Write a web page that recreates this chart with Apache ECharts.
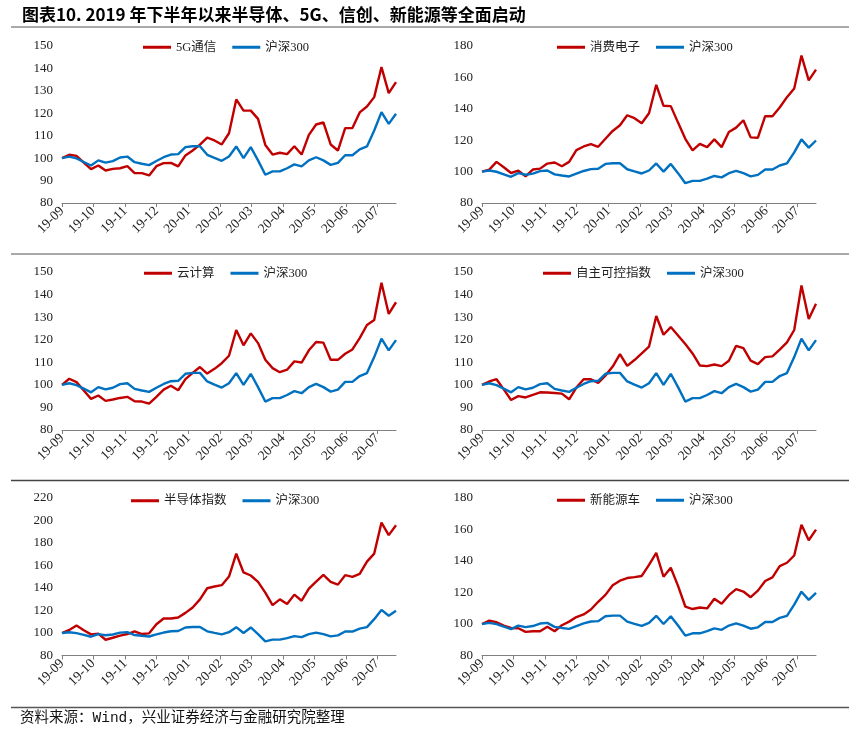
<!DOCTYPE html>
<html><head><meta charset="utf-8">
<script src="https://cdn.jsdelivr.net/npm/echarts@6/dist/echarts.min.js"></script>
<style>html,body{margin:0;padding:0;background:#fff}#c{width:860px;height:730px}</style>
</head><body><div id="c"></div>
<script>
const titleText = '图表10. 2019 年下半年以来半导体、5G、信创、新能源等全面启动';
const sourceText = '资料来源：Wind，兴业证券经济与金融研究院整理';

const dates = ['2019-09-01','2019-09-08','2019-09-15','2019-09-22','2019-09-29','2019-10-06','2019-10-13','2019-10-20','2019-10-27','2019-11-03',
'2019-11-10','2019-11-17','2019-11-24','2019-12-01','2019-12-08','2019-12-15','2019-12-22','2019-12-29','2020-01-05','2020-01-12',
'2020-01-19','2020-01-26','2020-02-02','2020-02-09','2020-02-16','2020-02-23','2020-03-01','2020-03-08','2020-03-15','2020-03-22',
'2020-03-29','2020-04-05','2020-04-12','2020-04-19','2020-04-26','2020-05-03','2020-05-10','2020-05-17','2020-05-24','2020-05-31',
'2020-06-07','2020-06-14','2020-06-21','2020-06-28','2020-07-05','2020-07-12','2020-07-19'];

const monthTicks = ['2019-09-01','2019-10-01','2019-11-01','2019-12-01','2020-01-01','2020-02-01','2020-03-01','2020-04-01','2020-05-01','2020-06-01','2020-07-01'];

const hs300 = [100,100.7,99.9,98.3,96.7,99,98,98.7,100.3,100.7,98.2,97.5,96.9,98.7,100.4,101.6,101.8,104.9,105.3,105.3,101.5,100.1,98.8,100.7,105.2,100,104.9,99,92.6,94.1,94.1,95.5,97.2,96.3,99,100.4,99,97,97.9,101.3,101.3,103.9,105.2,112.3,120.5,115.3,119.8];
const tel5g = [100,101.5,101,98,95.1,96.7,94.5,95.2,95.5,96.4,93.3,93.3,92.3,96.4,97.8,97.9,96.3,101.2,103.4,106,109.1,107.9,106.1,111.1,126.2,121.2,121.2,117.5,105.9,101.6,102.4,101.8,105.3,101.6,110.4,115,115.9,106.1,103.4,113.4,113.4,120.4,123,127.2,140.6,129,133.9];
const consumer = [100,101.3,106.2,102.8,99.1,100.6,97,101.3,101.9,105.1,105.8,103.4,106.2,113.7,116,117.5,115.8,120.9,125.9,129.5,135.9,134,130.8,137.2,155.3,141.9,141.7,131.2,120.9,113.5,117.7,115.6,120.5,115.6,125.2,128,132.7,121.8,121.6,135.3,135.3,140.8,147.4,153,173.9,158.1,165];
const cloud = [100,102.7,101.2,97.5,93.8,95.3,92.9,93.5,94.2,94.7,92.7,92.6,91.7,94.7,97.9,99.6,97.6,102.5,105.3,107.9,105,107.1,109.6,112.9,124.3,117.5,122.8,118.5,111.1,107.4,105.6,106.7,110.4,109.9,115.3,119,118.7,111.1,111.1,113.8,115.7,120.7,126.5,128.7,145.2,131.4,136.6];
const autonomy = [100,101.5,102.5,98,93.3,95,94.4,95.6,96.7,96.6,96.4,96.1,93.6,98.8,102.5,102.5,100.9,104.1,108.1,113.6,108.4,111,113.9,116.9,130.5,122.2,125.6,121.9,118.1,113.9,108.6,108.3,109,108.3,110.7,117.3,116.3,110.7,109.2,112.3,112.6,115.6,118.8,124.3,144,129.2,135.9];
const semi = [100,102.7,106.6,102.5,98.8,99.4,94,95.8,97.6,99.1,101.5,99.1,99.7,107.8,112.9,112.9,113.8,117.9,122.7,129.9,139.8,141.3,142.5,150.2,170.6,153.8,151.1,145.4,135.9,124.8,129.9,125.7,134.1,128.7,139.5,145.7,151.7,145.4,143,151.4,149.9,152.6,163.4,170.6,198.1,187,195.7];
const nev = [100,102.1,101.1,99,97.5,97.3,95,95.4,95.4,98.3,95.4,99.2,101.5,104.4,106.1,109.2,114.1,118.5,124.6,127.5,129.2,129.8,130.5,137.6,145.2,130,135.7,124.2,111.1,109.5,110.5,109.9,116,112.8,118.3,122.1,120.6,117,121.2,127.3,129.6,136.8,138.9,143.5,163,153.2,159.9];

const panelNames = ['5G通信','消费电子','云计算','自主可控指数','半导体指数','新能源车'];
const panelValues = [tel5g, consumer, cloud, autonomy, semi, nev];
const benchName = '沪深300';
const yMin = [80,80,80,80,80,80];
const yMax = [150,180,150,150,220,180];
const yStep = [10,20,10,10,20,20];

const layout = [
  {left:62, top:46, height:157, lgLeft:143, lgY:48},
  {left:482, top:46, height:157, lgLeft:557, lgY:48},
  {left:62, top:272, height:158, lgLeft:144, lgY:274},
  {left:482, top:272, height:158, lgLeft:543, lgY:274},
  {left:62, top:498, height:157.5, lgLeft:131, lgY:501.5},
  {left:482, top:498, height:157.5, lgLeft:557, lgY:501}
];

const RED = '#C00000', BLUE = '#0070C0';
const serif = '"Liberation Serif","Noto Sans CJK SC",serif';
const parse = s => echarts.number.parseDate(s).getTime();
const tickVals = monthTicks.map(parse);
const fmt = v => { const d = new Date(v); return String(d.getFullYear()).slice(2) + '-' + String(d.getMonth()+1).padStart(2,'0'); };

const grids = [], xAxes = [], yAxes = [], series = [], legends = [];
layout.forEach((L, i) => {
  grids.push({left: L.left, top: L.top, width: 334, height: L.height, containLabel: false});
  xAxes.push({
    type: 'value', gridIndex: i, min: parse(dates[0]), max: parse(dates[dates.length-1]),
    axisLine: {show: true, onZero: false, lineStyle: {color: '#808080', width: 1}},
    axisTick: {show: true, customValues: tickVals, length: 4, lineStyle: {color: '#808080'}},
    axisLabel: {customValues: tickVals, rotate: 45, formatter: fmt, fontFamily: serif, fontSize: 13.5, color: '#222', margin: 6, hideOverlap: false},
    splitLine: {show: false}
  });
  yAxes.push({
    type: 'value', gridIndex: i, min: yMin[i], max: yMax[i], interval: yStep[i],
    axisLine: {show: false}, axisTick: {show: false}, splitLine: {show: false},
    axisLabel: {fontFamily: serif, fontSize: 13, color: '#222', margin: 9}
  });
  series.push({
    name: panelNames[i], type: 'line', xAxisIndex: i, yAxisIndex: i, showSymbol: false, symbol: 'none',
    lineStyle: {color: RED, width: 2.4}, itemStyle: {color: RED}, animation: false,
    data: dates.map((d, j) => [parse(d), panelValues[i][j]])
  });
  series.push({
    name: benchName, type: 'line', xAxisIndex: i, yAxisIndex: i, showSymbol: false, symbol: 'none',
    lineStyle: {color: BLUE, width: 2.4}, itemStyle: {color: BLUE}, animation: false,
    data: dates.map((d, j) => [parse(d), hs300[j]])
  });
  legends.push({
    left: L.lgLeft, top: L.lgY - 7, padding: 0, itemWidth: 28, itemHeight: 3, itemGap: 16, icon: 'rect',
    data: [panelNames[i], benchName],
    textStyle: {fontFamily: serif, fontSize: 12.5, color: '#222'}
  });
});

const chart = echarts.init(document.getElementById('c'), null, {renderer: 'canvas'});
chart.setOption({
  animation: false,
  backgroundColor: '#fff',
  grid: grids, xAxis: xAxes, yAxis: yAxes, series: series, legend: legends,
  graphic: [
    {type: 'line', shape: {x1: 11, y1: 27, x2: 849, y2: 27}, style: {stroke: '#8c8c8c', lineWidth: 1.3}},
    {type: 'line', shape: {x1: 11, y1: 254, x2: 849, y2: 254}, style: {stroke: '#8c8c8c', lineWidth: 1.3}},
    {type: 'line', shape: {x1: 11, y1: 480.5, x2: 849, y2: 480.5}, style: {stroke: '#444', lineWidth: 1.3}},
    {type: 'line', shape: {x1: 11, y1: 707.5, x2: 849, y2: 707.5}, style: {stroke: '#555', lineWidth: 1.3}},
    {type: 'text', x: 22, y: 15, style: {text: titleText, font: 'bold 17px "Noto Sans CJK SC"', fill: '#000', verticalAlign: 'middle'}},
    {type: 'text', x: 20, y: 718, style: {text: sourceText, font: '14.5px "Liberation Mono","Noto Sans CJK SC"', fill: '#111', verticalAlign: 'middle'}}
  ]
});
</script></body></html>
